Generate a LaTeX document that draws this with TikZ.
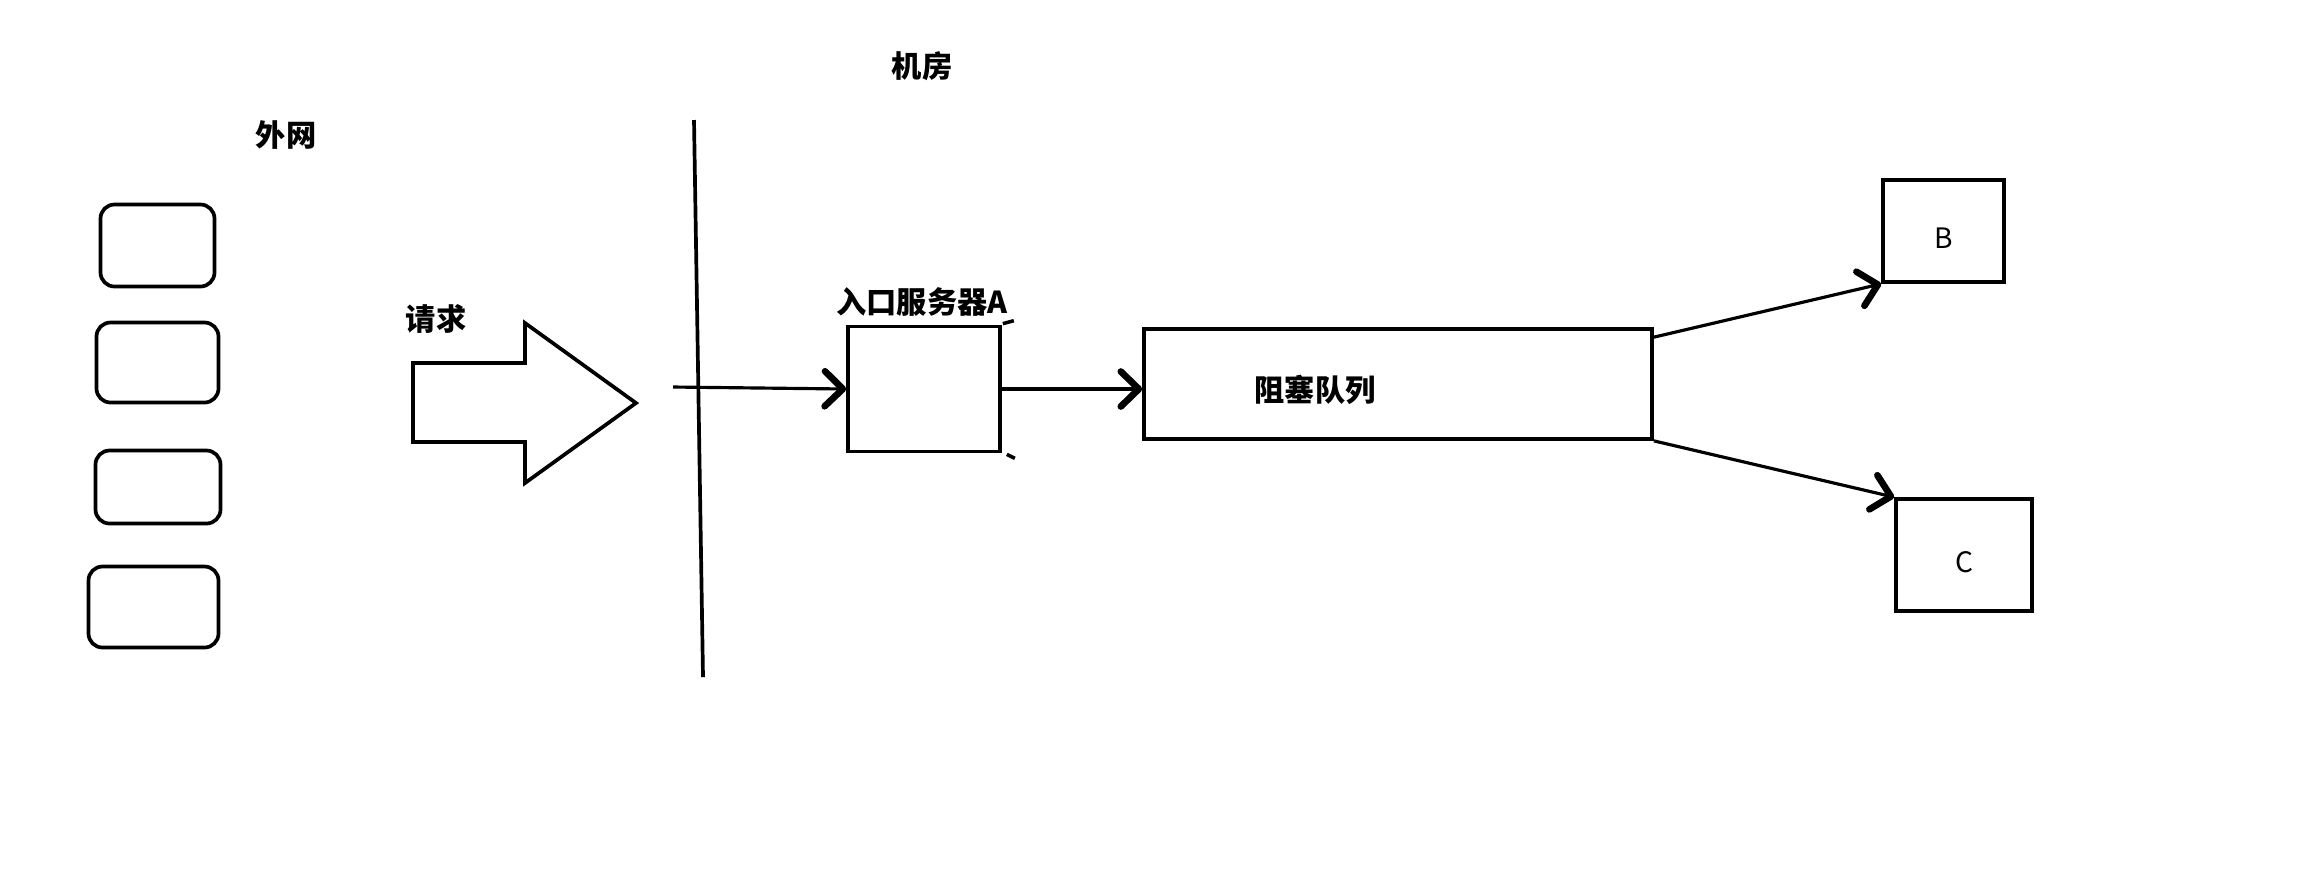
\documentclass[tikz,border=0pt]{standalone}
\usepackage{fontspec}
\newfontfamily\cjk{Noto Sans CJK SC}
\usetikzlibrary{arrows.meta,positioning,calc}
\tikzset{
  >={Straight Barb[length=1.8mm,width=3.5mm,line width=1.9pt,round]},
  host/.style={draw,line width=1.05pt,rounded corners=1.4mm,inner sep=0pt},
  unit/.style={draw,line width=1.05pt,inner sep=0pt,font=\cjk\fontsize{8}{10}\selectfont,
    text height=3.5mm,text depth=0pt},
  flow/.style={->,line width=0.9pt},
  tag/.style={font=\cjk\bfseries\fontsize{8.6}{10}\selectfont,inner sep=0pt},
}
\begin{document}
\begin{tikzpicture}
    \useasboundingbox (0,0) rectangle (22.99,-8.85);
    % outside: clients
    \node[tag] (outer) at (2.86,-1.35) {外网};
    \node[host,minimum width=11.4mm,minimum height=8.2mm] (c1) at (1.575,-2.455) {};
    \node[host,minimum width=12.2mm,minimum height=8.0mm] (c2) at (1.575,-3.625) {};
    \node[host,minimum width=12.5mm,minimum height=7.3mm] (c3) at (1.58,-4.87) {};
    \node[host,minimum width=13.0mm,minimum height=8.1mm] (c4) at (1.535,-6.07) {};
    % request arrow
    \node[tag] (req) at (4.36,-3.19) {请求};
    \draw[line width=1.05pt,line join=miter] (4.13,-3.63) -- (5.25,-3.63) -- (5.25,-3.23) -- (6.36,-4.03)
      -- (5.25,-4.83) -- (5.25,-4.42) -- (4.13,-4.42) -- cycle;
    % wall of the machine room
    \node[tag] (room) at (9.22,-0.66) {机房};
    \draw[line width=1.05pt] (6.94,-1.20) -- (7.03,-6.77);
    % inside
    \coordinate (in) at (6.73,-3.87);
    \node[unit,minimum width=15.2mm,minimum height=12.5mm] (A) at (9.24,-3.89) {};
    \node[tag] (Alabel) at (9.22,-3.02) {入口服务器A};
    \draw[line width=1pt] ([shift={(0.01,0.01)}]A.north east) -- ++(0.11,0.03);
    \draw[line width=1pt] ([shift={(0.05,-0.01)}]A.south east) -- ++(0.08,-0.04);
    \node[unit,minimum width=50.8mm,minimum height=11.0mm] (Q) at (13.98,-3.84) {};
    \node[tag] (Qlabel) at (13.15,-3.90) {阻塞队列};
    \node[unit,minimum width=12.1mm,minimum height=10.2mm] (B) at (19.435,-2.31) {B};
    \node[unit,minimum width=13.6mm,minimum height=11.2mm] (C) at (19.64,-5.55) {C};
    \draw[flow] (in) -- (A.west);
    \draw[flow] (A.east) -- (A.east -| Q.west);
    \draw[flow] ([yshift=-1mm]Q.north east) -- (B.south west);
    \draw[flow] (Q.south east) -- (C.north west);
\end{tikzpicture}
\end{document}
